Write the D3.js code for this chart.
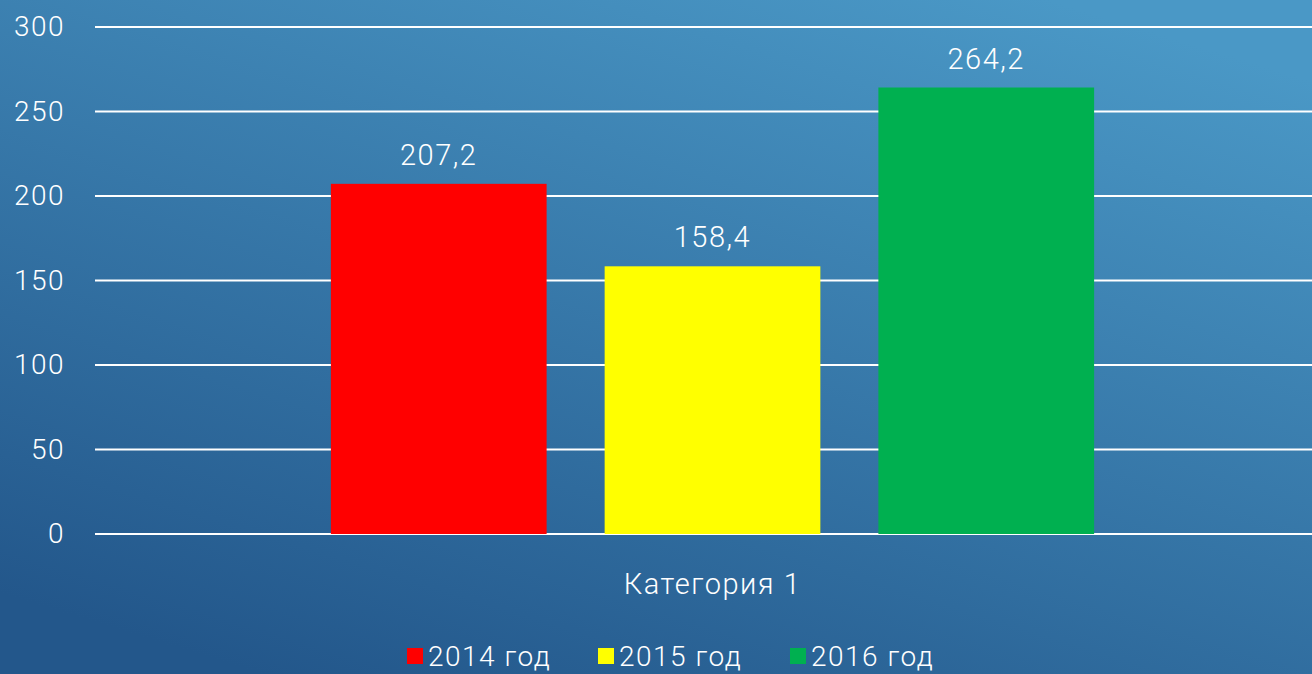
<!doctype html>
<html lang="ru">
<head>
<meta charset="utf-8">
<title>Категория 1</title>
<script src="https://cdnjs.cloudflare.com/ajax/libs/d3/7.8.5/d3.min.js"></script>
<style>
    html, body { margin: 0; padding: 0; overflow: hidden; }
    body { width: 1312px; height: 674px; }
    text { font-family: "Roboto", "Open Sans", sans-serif; font-weight: 300; fill: #fff; letter-spacing: 1.5px; }
</style>
</head>
<body>
<div id="chart"></div>
<script>
// chart data
var categories = ["Категория 1"];
var seriesNames = ["2014 год", "2015 год", "2016 год"];
var seriesValues = [207.2, 158.4, 264.2];
var seriesColours = ["#ff0000", "#ffff00", "#00b050"];
var yTicks = [0, 50, 100, 150, 200, 250, 300];

var width = 1312, height = 674;
var margin = {top: 27, right: -18, bottom: 140, left: 95};
var plotW = width - margin.left - margin.right;
var plotH = height - margin.top - margin.bottom;

var svg = d3.select("#chart").append("svg")
    .attr("width", width)
    .attr("height", height);

// background gradient, lighter in the top right corner
var grad = svg.append("defs").append("linearGradient")
    .attr("id", "bg")
    .attr("x1", "80%").attr("y1", "0%")
    .attr("x2", "20%").attr("y2", "100%");
grad.append("stop").attr("offset", "0%").attr("stop-color", "#4a98c6");
grad.append("stop").attr("offset", "100%").attr("stop-color", "#23578b");

svg.append("rect")
    .attr("width", width).attr("height", height)
    .attr("fill", "url(#bg)");

var g = svg.append("g")
    .attr("transform", "translate(" + margin.left + "," + margin.top + ")");

var y = d3.scaleLinear().domain([0, 300]).range([plotH, 0]);
var x0 = d3.scaleBand().domain(categories).range([0, plotW]);
var x1 = d3.scaleBand().domain(seriesNames)
    .range([x0.bandwidth() * 0.191, x0.bandwidth() * 0.809])
    .paddingInner(0.212);

// gridlines
g.selectAll("line.grid")
    .data(yTicks)
    .enter().append("line")
    .attr("class", "grid")
    .attr("x1", 0).attr("x2", plotW)
    .attr("y1", d => y(d)).attr("y2", d => y(d))
    .attr("stroke", "#fff")
    .attr("stroke-width", 2);

// y axis labels
var yAxis = g.append("g")
    .call(d3.axisLeft(y).tickValues(yTicks).tickSize(0).tickPadding(30));
yAxis.select(".domain").remove();
yAxis.selectAll("text")
    .attr("font-size", 28)
    .attr("font-family", null)
    .attr("fill", "#fff");

// bars
var cat = g.selectAll("g.cat")
    .data(categories)
    .enter().append("g")
    .attr("transform", d => "translate(" + x0(d) + ",0)");

cat.selectAll("rect")
    .data(seriesNames.map((s, i) => ({name: s, value: seriesValues[i], colour: seriesColours[i]})))
    .enter().append("rect")
    .attr("x", d => x1(d.name))
    .attr("y", d => y(d.value))
    .attr("width", x1.bandwidth())
    .attr("height", d => plotH - y(d.value))
    .attr("fill", d => d.colour);

// value labels
cat.selectAll("text.val")
    .data(seriesNames.map((s, i) => ({name: s, value: seriesValues[i]})))
    .enter().append("text")
    .attr("class", "val")
    .attr("x", d => x1(d.name) + x1.bandwidth() / 2)
    .attr("y", d => y(d.value) - 19)
    .attr("text-anchor", "middle")
    .attr("font-size", 29)
    .text(d => String(d.value).replace(".", ","));

// category label
g.selectAll("text.cat")
    .data(categories)
    .enter().append("text")
    .attr("class", "cat")
    .attr("x", d => x0(d) + x0.bandwidth() / 2)
    .attr("y", plotH + 60)
    .attr("text-anchor", "middle")
    .attr("font-size", 29)
    .text(d => d);

// legend
var legendX = [407, 598, 790];
var legend = svg.append("g");
var item = legend.selectAll("g")
    .data(seriesNames)
    .enter().append("g")
    .attr("transform", (d, i) => "translate(" + legendX[i] + ",648)");
item.append("rect")
    .attr("width", 16).attr("height", 16)
    .attr("fill", (d, i) => seriesColours[i]);
item.append("text")
    .attr("x", 21)
    .attr("y", 18)
    .attr("font-size", 28)
    .text(d => d);
</script>
</body>
</html>
